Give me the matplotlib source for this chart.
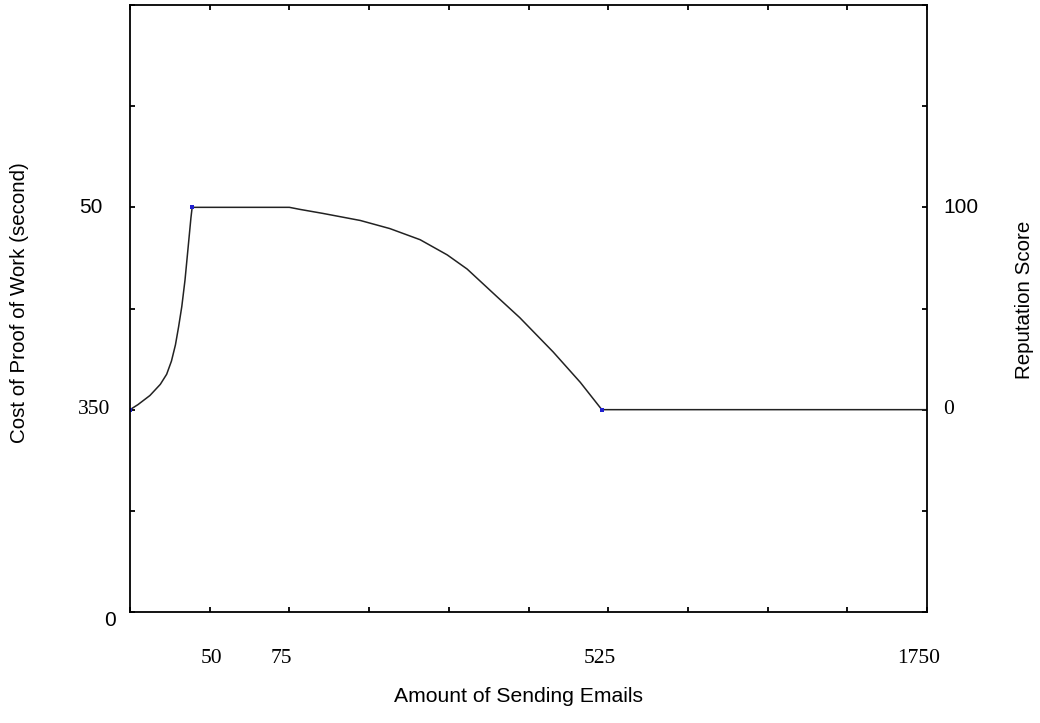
import matplotlib.pyplot as plt
import matplotlib.transforms as mtransforms

# curve (x in grid units 0..10, y in grid units 0..6)
x_vals = [0.0, 0.10, 0.25, 0.38, 0.46, 0.52, 0.57, 0.61, 0.65, 0.69, 0.73, 0.765, 0.78,
          2.0, 2.13, 2.42, 2.89, 3.26, 3.64, 3.98, 4.23, 4.60, 4.89, 5.31, 5.65, 5.92, 10.0]
y_vals = [2.0, 2.05, 2.14, 2.25, 2.35, 2.48, 2.64, 2.82, 3.02, 3.28, 3.61, 3.90, 4.0,
          4.0, 3.98, 3.94, 3.87, 3.79, 3.68, 3.53, 3.39, 3.12, 2.91, 2.57, 2.27, 2.0, 2.0]

# blue key points
key_x = [0.0, 0.78, 5.92]
key_y = [2.0, 4.0, 2.0]

# tick labels as printed on the original
x_labels = ['50', '75', '525', '1750']
left_labels = ['50', '350', '0']
left_label_serif = [False, True, False]
right_labels = ['100', '0']
right_label_serif = [False, True]

# where those labels sit
x_label_pos = [1.02, 1.9, 5.9, 9.89]
left_label_pos = [4.0, 2.0, -0.08]
left_label_off = [-0.034, -0.025, -0.018]
right_label_pos = [4.0, 2.0]

fig = plt.figure(figsize=(10.4, 7.23), dpi=100)
ax = fig.add_axes([130 / 1040, 1 - 612 / 723, 797 / 1040, 607 / 723])

ax.plot(x_vals, y_vals, color='#222222', lw=1.1)
ax.plot(key_x, key_y, 's', color='#2020d0', ms=2.5, mew=0)

ax.set_xlim(0, 10)
ax.set_ylim(0, 6)
ax.set_xticks(range(0, 11))
ax.set_yticks(range(0, 7))
ax.set_xticklabels([])
ax.set_yticklabels([])
ax.tick_params(direction='in', length=3.5, width=1.3, top=True, right=True)
for s in ax.spines.values():
    s.set_linewidth(1.3)

sans = 'Liberation Sans'
serif = 'Liberation Serif'

tx = mtransforms.blended_transform_factory(ax.transData, ax.transAxes)
for lab, p in zip(x_labels, x_label_pos):
    ax.text(p, -0.076, lab, transform=tx, ha='center', va='center',
            fontsize=15.5, family=serif)

ty = mtransforms.blended_transform_factory(ax.transAxes, ax.transData)
for lab, p, off, sf in zip(left_labels, left_label_pos, left_label_off, left_label_serif):
    ax.text(off, p, lab, transform=ty, ha='right', va='center',
            fontsize=15.5 if sf else 15, family=serif if sf else sans)
for lab, p, sf in zip(right_labels, right_label_pos, right_label_serif):
    ax.text(1.02, p, lab, transform=ty, ha='left', va='center',
            fontsize=15.5 if sf else 15, family=serif if sf else sans)

fig.text(20 / 1040, 1 - 303 / 723, 'Cost of Proof of Work (second)', rotation=90,
         ha='center', va='center', fontsize=14.8, family=sans)
fig.text(1025 / 1040, 1 - 300 / 723, 'Reputation Score', rotation=90,
         ha='center', va='center', fontsize=14.8, family=sans)
fig.text(518 / 1040, 1 - 697 / 723, 'Amount of Sending Emails',
         ha='center', va='center', fontsize=15.2, family=sans)

fig.savefig('out.png', dpi=100)
